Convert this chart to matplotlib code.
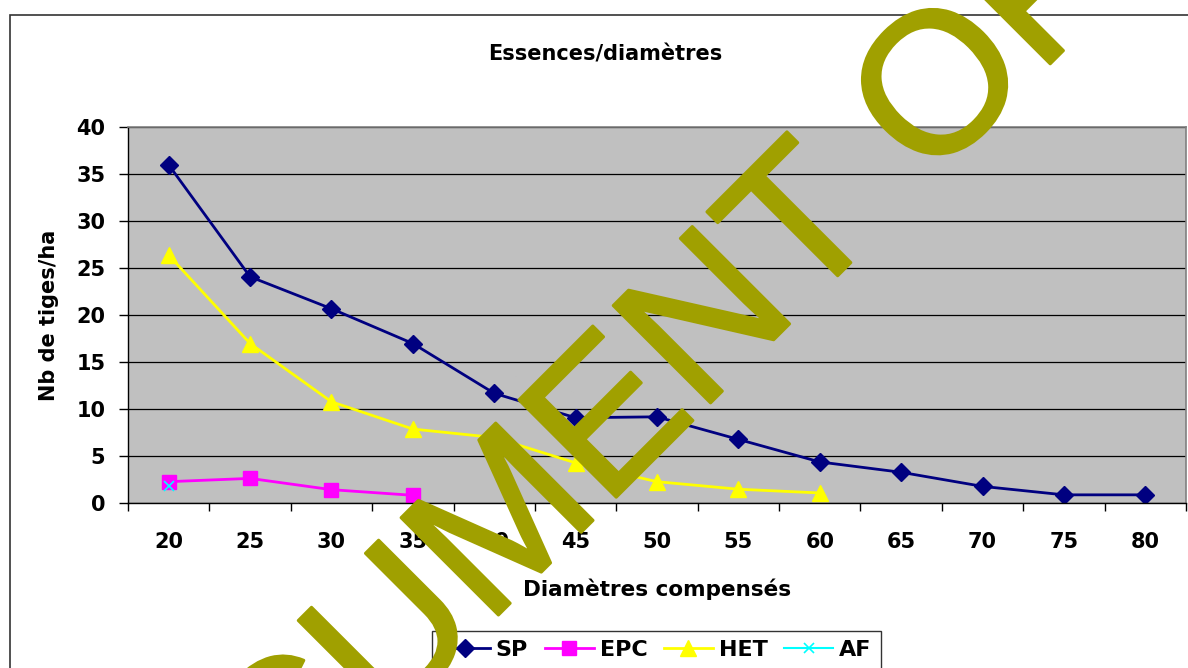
import matplotlib
matplotlib.use('Agg')
import matplotlib.pyplot as plt
import matplotlib.patheffects as pe
from matplotlib.patches import Rectangle
from matplotlib.ticker import NullFormatter

# ---- data ----
diametres = [20, 25, 30, 35, 40, 45, 50, 55, 60, 65, 70, 75, 80]
sp = [36.0, 24.1, 20.7, 17.0, 11.7, 9.1, 9.2, 6.8, 4.4, 3.3, 1.8, 0.9, 0.9]
epc = [2.3, 2.65, 1.45, 0.85]
het = [26.4, 17.0, 10.8, 7.9, 7.0, 4.3, 2.3, 1.5, 1.1]
af = [1.8]
yticks = [0, 5, 10, 15, 20, 25, 30, 35, 40]

title = "Essences/diamètres"
xlabel = "Diamètres compensés"
ylabel = "Nb de tiges/ha"

plt.rcParams['font.family'] = ['DejaVu Sans']
plt.rcParams['font.weight'] = 'bold'

W, H = 1188, 668
fig = plt.figure(figsize=(W / 100, H / 100), dpi=100)
fig.patch.set_facecolor('white')

left, right, top, bottom = 128, 1186, 127.3, 503.3
ax = fig.add_axes([left / W, 1 - bottom / H, (right - left) / W, (bottom - top) / H])
ax.set_facecolor('#C0C0C0')

xs = list(range(len(diametres)))
ax.plot(xs[:len(sp)], sp, color='#000080', marker='D', ms=8.8, lw=2, label='SP')
ax.plot(xs[:len(epc)], epc, color='#FF00FF', marker='s', ms=10, lw=2, label='EPC')
ax.plot(xs[:len(het)], het, color='#FFFF00', marker='^', ms=11, lw=2, label='HET')
ax.plot(xs[:len(af)], af, color='#00FFFF', marker='x', ms=7, mew=1.2, lw=1.5, label='AF')

ax.set_ylim(0, 40)
ax.set_yticks(yticks)
ax.set_xlim(-0.5, len(diametres) - 0.5)
ax.set_xticks([i - 0.5 for i in range(len(diametres) + 1)])
ax.xaxis.set_major_formatter(NullFormatter())
ax.set_xticks(xs, minor=True)
ax.set_xticklabels([str(d) for d in diametres], minor=True)

ax.tick_params(axis='y', length=6.3, width=1, pad=10, labelsize=15, direction='out')
ax.tick_params(axis='x', which='major', length=6, width=1, direction='out')
ax.tick_params(axis='x', which='minor', length=0, pad=21, labelsize=15)
for lab in ax.get_yticklabels() + ax.get_xticklabels(minor=True):
    lab.set_fontweight('bold')

ax.yaxis.grid(True, color='black', lw=0.9)
ax.set_axisbelow(True)

for s in ['top', 'right']:
    ax.spines[s].set_color('#808080')
    ax.spines[s].set_linewidth(1.2)
for s in ['left', 'bottom']:
    ax.spines[s].set_color('black')
    ax.spines[s].set_linewidth(1.0)

ax.set_xlabel(xlabel, fontsize=15.5, fontweight='bold')
ax.xaxis.set_label_coords(0.5, -(578 - bottom) / (bottom - top))
ax.set_ylabel(ylabel, fontsize=15, fontweight='bold')
ax.yaxis.set_label_coords((59.3 - left) / (right - left), 0.5)

ax.set_title(title, fontsize=15, fontweight='bold',
             x=(605 - left) / (right - left), y=(bottom - 61) / (bottom - top), pad=0)

# chart frame
fig.add_artist(Rectangle((9.5 / W, -0.5), 2, 1 - 15 / H + 0.5, transform=fig.transFigure,
                         fill=False, ec='#333333', lw=1.2))

# legend
fig.legend(loc='upper left', bbox_to_anchor=(432 / W, 1 - 631 / H), bbox_transform=fig.transFigure,
           ncol=4, prop={'weight': 'bold', 'size': 16}, frameon=True, fancybox=False,
           edgecolor='#333333', framealpha=1, borderaxespad=0, borderpad=0.4,
           handlelength=2.2, handletextpad=0.27, columnspacing=0.75)

# watermark
wm_color = '#A0A000'
effects = [pe.withStroke(linewidth=2.2, foreground=wm_color)]
fig.text(887.4 / W, 1 - 226.0 / H, "DOCUMENT", rotation=45, rotation_mode='anchor',
         ha='right', va='baseline', fontsize=144, family='Liberation Sans', fontweight='normal',
         color=wm_color, zorder=10, path_effects=effects)
fig.text(928.6 / W, 1 - 185.4 / H, "OF", rotation=45, rotation_mode='anchor',
         ha='left', va='baseline', fontsize=144, family='Liberation Sans', fontweight='normal',
         color=wm_color, zorder=10, path_effects=effects)

fig.savefig('out.png', dpi=100)
